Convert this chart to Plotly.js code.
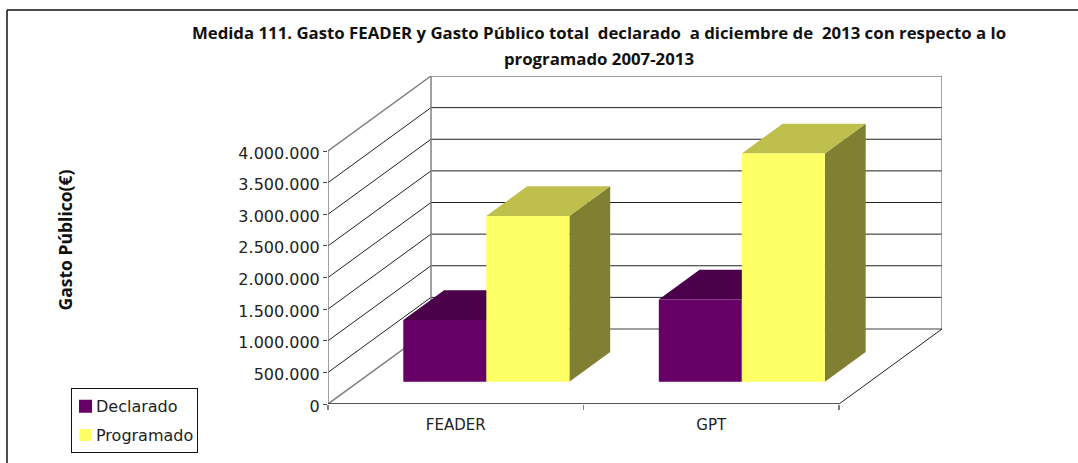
<!DOCTYPE html>
<html>
<head>
<meta charset="utf-8">
<script src="https://cdn.plot.ly/plotly-3.0.1.min.js"></script>
<style>html,body{margin:0;padding:0;background:#fff}#chart{width:1078px;height:463px}</style>
</head>
<body>
<div id="chart"></div>
<script>
const categories = ["FEADER", "GPT"];
const declarado = [975000, 1300000];
const programado = [2620000, 3610000];
const yTicks = [0, 500000, 1000000, 1500000, 2000000, 2500000, 3000000, 3500000, 4000000];
const seriesNames = ["Declarado", "Programado"];

const W = 1078, H = 463;
const L = 328, R = 942, T = 76, B = 404;
const unitPx = 255.5, valPx = 253 / 4000000;
const depthX = (R - L - 2 * unitPx) / unitPx;
const depthY = 75 / valPx;
const yMax = (B - T) / valPx;
const depth0 = 0.297, depth1 = 0.693, barW = 0.325;
const tickFont = "DejaVu Sans, sans-serif";
const boldFont = "Open Sans, sans-serif";

const px = (u, k) => u + k * depthX;
const py = (v, k) => v + k * depthY;

function poly(xs, ys, color) {
  return {type: "scatter", mode: "lines", x: xs, y: ys, fill: "toself", fillcolor: color,
          line: {width: 0, color: color}, showlegend: false, hoverinfo: "skip", cliponaxis: false};
}
function line(xs, ys, color, width) {
  return {type: "scatter", mode: "lines", x: xs, y: ys, line: {color: color, width: width},
          showlegend: false, hoverinfo: "skip", cliponaxis: false};
}
function box(u0, u1, v, cFront, cTop, cSide) {
  return [
    poly([px(u1, depth0), px(u1, depth1), px(u1, depth1), px(u1, depth0), px(u1, depth0)],
         [py(0, depth0), py(0, depth1), py(v, depth1), py(v, depth0), py(0, depth0)], cSide),
    poly([px(u0, depth0), px(u0, depth1), px(u1, depth1), px(u1, depth0), px(u0, depth0)],
         [py(v, depth0), py(v, depth1), py(v, depth1), py(v, depth0), py(v, depth0)], cTop),
    poly([px(u0, depth0), px(u1, depth0), px(u1, depth0), px(u0, depth0), px(u0, depth0)],
         [py(0, depth0), py(0, depth0), py(v, depth0), py(v, depth0), py(0, depth0)], cFront)
  ];
}

const traces = [];
const n = categories.length;
yTicks.forEach((v, i) => {
  const edge = i === 0 || i === yTicks.length - 1;
  if (i > 0) traces.push(line([px(0, 0), px(0, 1), px(n, 1)], [v, py(v, 1), py(v, 1)], edge ? "#808080" : "#222222", edge ? 1.5 : 1));
});
traces.push(line([px(0, 1), px(0, 1)], [py(0, 1), py(4000000, 1)], "#808080", 1.5));
traces.push(line([px(n, 1), px(n, 1)], [py(0, 1), py(4000000, 1)], "#808080", 1.5));
traces.push(line([px(0, 0), px(0, 1), px(n, 1)], [0, py(0, 1), py(0, 1)], "#808080", 1.5));
traces.push(line([px(n, 0), px(n, 1)], [0, py(0, 1)], "#222222", 1));
traces.push(line([0, 0], [0, 4000000], "#808080", 1.5));
traces.push(line([0, n], [0, 0], "#222222", 1.5));

categories.forEach((c, i) => {
  const mid = i + 0.5;
  traces.push(...box(mid - barW, mid, declarado[i], "#660066", "#4a004a", "#4a004a"));
  traces.push(...box(mid, mid + barW, programado[i], "#FFFF66", "#BFBF4D", "#808033"));
});

[["#660066", 13], ["#FFFF66", 12]].forEach((s, i) => {
  traces.push({type: "scatter", mode: "markers", x: [null], y: [null], name: seriesNames[i], legendgroup: seriesNames[i],
               marker: {symbol: "square", size: s[1], color: s[0]}, hoverinfo: "skip"});
});

const layout = {
  width: W, height: H,
  paper_bgcolor: "#fff", plot_bgcolor: "#fff",
  margin: {l: L, r: W - R, t: T, b: H - B, pad: 0, autoexpand: false},
  separators: ",.",
  hovermode: false,
  title: {
    text: '<span style="font-size:16.8px">Medida 111. Gasto FEADER y Gasto Público total\u00a0 declarado\u00a0 a diciembre de\u00a0 2013 con respecto a lo</span><br><span style="font-size:16.8px">programado 2007-2013</span>',
    font: {family: boldFont, size: 20, color: "#111", weight: 700},
    x: 599 / W, xanchor: "center", xref: "container", y: 1 - 39 / H, yanchor: "top", yref: "container"
  },
  xaxis: {
    range: [0, n + depthX], showgrid: false, zeroline: false, showline: false,
    tickmode: "array", tickvals: categories.map((c, i) => i + 0.5), ticktext: categories, ticks: "", ticklen: 0,
    ticklabelstandoff: 10,
    tickfont: {family: tickFont, size: 15, color: "#222"},
    minor: {tickmode: "array", tickvals: [0, 1, 2], ticks: "outside", ticklen: 5, tickcolor: "#808080", tickwidth: 1.5, showgrid: false}
  },
  yaxis: {
    range: [0, yMax], showgrid: false, zeroline: false, showline: false,
    tickmode: "array", tickvals: yTicks, tickformat: ",d", ticks: "outside", ticklen: 4, tickcolor: "#444", tickwidth: 1,
    tickfont: {family: tickFont, size: 16, color: "#222"}, ticklabelshift: 2,
    title: {text: "Gasto Público(€)", font: {family: boldFont, size: 17.5, color: "#111", weight: 700}, standoff: 161}
  },
  legend: {
    x: (71 - L) / (R - L), y: (B - 388.3) / (B - T), xanchor: "left", yanchor: "top",
    bgcolor: "#fff", bordercolor: "#111", borderwidth: 1, tracegroupgap: 5, traceorder: "grouped", indentation: -13,
    font: {family: tickFont, size: 16, color: "#222"}
  },
  shapes: [
    {type: "line", xref: "paper", yref: "paper", x0: (7 - L) / (R - L), x1: (W - L) / (R - L), y0: (B - 10) / (B - T), y1: (B - 10) / (B - T), line: {color: "#111", width: 1.5}},
    {type: "line", xref: "paper", yref: "paper", x0: (7 - L) / (R - L), x1: (7 - L) / (R - L), y0: (B - 10) / (B - T), y1: (B - H) / (B - T), line: {color: "#111", width: 1.5}}
  ]
};
Plotly.newPlot("chart", traces, layout, {displayModeBar: false, staticPlot: true}).then(gd => {
  gd.querySelectorAll(".legend .legendsymbols").forEach(el => el.setAttribute("transform", "translate(6.5,0)"));
  gd.querySelectorAll(".legend .legendtext").forEach(el => el.setAttribute("x", parseFloat(el.getAttribute("x")) - 3));
  gd.querySelectorAll(".legend .bg").forEach(el => el.setAttribute("width", 126));
});
</script>
</body>
</html>
